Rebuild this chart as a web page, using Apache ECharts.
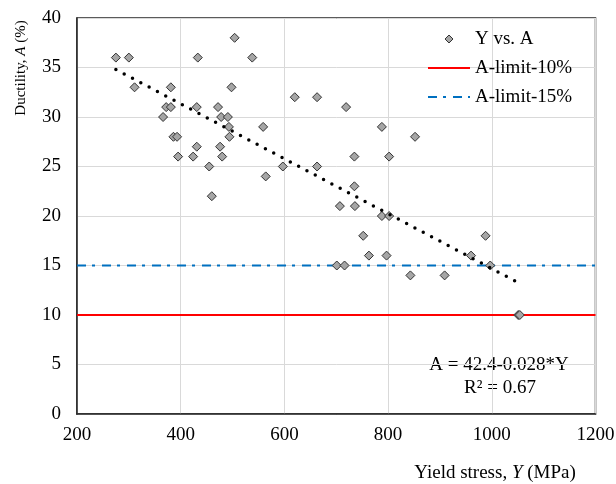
<!DOCTYPE html>
<html>
<head>
<meta charset="utf-8">
<script src="https://cdn.jsdelivr.net/npm/echarts@6/dist/echarts.min.js"></script>
<style>
  html, body { margin: 0; padding: 0; background: #fff; }
  #chart { width: 616px; height: 484px; }
</style>
</head>
<body>
<div id="chart"></div>
<script>
// yield stress Y (MPa) and ductility A (%) of each test
var yieldStress = [275, 300, 433, 504, 538, 311, 381, 498, 620, 663,
  372, 381, 431, 472, 719, 366, 478, 491, 493, 559,
  788, 386, 393, 494, 852, 431, 476, 395, 424, 480,
  735, 802, 455, 597, 663, 564, 735, 460, 707, 736,
  788, 802, 752, 988, 763, 797, 960, 701, 716, 997,
  843, 909, 1051, 1054]
var ductility = [36, 36, 36, 38, 36, 33, 33, 33, 32, 32,
  31, 31, 31, 31, 31, 30, 30, 30, 29, 29,
  29, 28, 28, 28, 28, 27, 27, 26, 26, 26,
  26, 26, 25, 25, 25, 24, 23, 22, 21, 21,
  20, 20, 18, 18, 16, 16, 16, 15, 15, 15,
  14, 14, 10, 10]

// linear trend (ends)
var trendY = [275, 1050]
var trendA = [34.8, 13.3]

// limit lines
var limitY = [200, 1200]
var limit10 = [10, 10]
var limit15 = [15, 15]

var FONT = '"Liberation Serif", "Times New Roman", serif'

function pairs (xs, ys) {
  var out = []
  for (var i = 0; i < xs.length; i++) {
    out.push([xs[i], ys[i]])
  }
  return out
}

var chart = echarts.init(document.getElementById('chart'), null, { renderer: 'canvas' })

var option = {
  animation: false,
  backgroundColor: '#fff',
  grid: {
    left: 77, right: 20.5, top: 18, bottom: 70,
    show: true, borderColor: '#262626', borderWidth: 1.5,
    containLabel: false, outerBoundsMode: 'none'
  },
  xAxis: {
    type: 'value', min: 200, max: 1200, interval: 200,
    axisLine: { show: true, onZero: false, lineStyle: { color: '#262626', width: 1.5 } },
    axisTick: { show: false },
    splitLine: { show: true, lineStyle: { color: '#d9d9d9', width: 1 } },
    axisLabel: {
      color: '#000', fontFamily: FONT, fontSize: 19, margin: 12,
      formatter: function (v) { return String(v) }
    }
  },
  yAxis: {
    type: 'value', min: 0, max: 40, interval: 5,
    axisLine: { show: true, onZero: false, lineStyle: { color: '#262626', width: 1.5 } },
    axisTick: { show: false },
    splitLine: { show: true, lineStyle: { color: '#d9d9d9', width: 1 } },
    axisLabel: { color: '#000', fontFamily: FONT, fontSize: 19, margin: 16 }
  },
  legend: {
    orient: 'vertical', left: 427, top: 29.5, padding: 0,
    itemWidth: 42, itemHeight: 9, itemGap: 10,
    textStyle: { color: '#000', fontFamily: FONT, fontSize: 19 },
    data: [
      {
        name: 'Y vs. A',
        // small diamond centred in the wide icon box
        icon: 'path://M0,0M42,9M21,0.5L25,4.5L21,8.5L17,4.5Z',
        itemStyle: { color: '#a6a6a6', borderWidth: 1, borderColor: '#333' }
      },
      { name: 'A-limit-10%', itemStyle: { opacity: 0 } },
      { name: 'A-limit-15%', itemStyle: { opacity: 0 } }
    ]
  },
  series: [
    {
      name: 'A-limit-10%', type: 'line', symbol: 'none', z: 2,
      data: pairs(limitY, limit10),
      itemStyle: { color: '#ff0000' },
      lineStyle: { color: '#ff0000', width: 2 }
    },
    {
      name: 'A-limit-15%', type: 'line', symbol: 'none', z: 2,
      data: pairs(limitY, limit15),
      itemStyle: { color: '#0070c0' },
      lineStyle: { color: '#0070c0', width: 2, type: [9, 6, 3, 7] }
    },
    {
      name: 'Trend', type: 'line', symbol: 'none', z: 4,
      data: pairs(trendY, trendA),
      itemStyle: { color: '#000' },
      lineStyle: { color: '#000', width: 3.5, type: [0, 9.4], cap: 'round' }
    },
    {
      name: 'Y vs. A', type: 'scatter', symbol: 'diamond', symbolSize: 9, z: 3,
      data: pairs(yieldStress, ductility),
      itemStyle: { color: '#a6a6a6', borderColor: '#333', borderWidth: 1, opacity: 1 }
    }
  ],
  graphic: [
    {
      type: 'text', x: 21, y: 68, rotation: Math.PI / 2,
      style: {
        text: 'Ductility, {i|A} (%)', fill: '#000', font: '15px ' + FONT,
        align: 'center', verticalAlign: 'middle',
        rich: { i: { fontStyle: 'italic', fontFamily: FONT, fontSize: 15 } }
      }
    },
    {
      type: 'text', x: 495, y: 473,
      style: {
        text: 'Yield stress, {i|Y} (MPa)', fill: '#000', font: '19px ' + FONT,
        align: 'center', verticalAlign: 'middle',
        rich: { i: { fontStyle: 'italic', fontFamily: FONT, fontSize: 19 } }
      }
    },
    {
      type: 'text', x: 499, y: 365,
      style: {
        text: 'A = 42.4-0.028*Y', fill: '#000', font: '19px ' + FONT,
        align: 'center', verticalAlign: 'middle'
      }
    },
    {
      type: 'text', x: 500, y: 388,
      style: {
        text: 'R\u00b2 = 0.67', fill: '#000', font: '19px ' + FONT,
        align: 'center', verticalAlign: 'middle'
      }
    }
  ]
}

chart.setOption(option)
</script>
</body>
</html>
